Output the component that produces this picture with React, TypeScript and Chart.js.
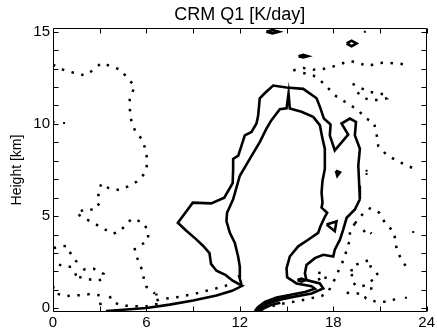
import React, { useEffect, useRef } from "react";
import { Chart, registerables } from "chart.js";

Chart.register(...registerables);

type P = [number, number];

// ---------- text ----------
const chartTitle = "CRM Q1 [K/day]";
const yAxisTitle = "Height [km]";

// ---------- axis ticks ----------
const xTickLabels = [0, 6, 12, 18, 24];
const xMinorTicks = [0, 3, 6, 9, 12, 15, 18, 21, 24];
const yTickLabels = [0, 5, 10, 15];
const yMinorTicks = [0, 1, 2, 3, 4, 5, 6, 7, 8, 9, 10, 11, 12, 13, 14, 15];

// ---------- solid contours (hour, km) ----------
const outerContour: P[] = [
  [3.4, -0.15], [4.5, -0.08], [6, 0.02], [7.5, 0.2], [9, 0.42], [10.5, 0.7], [11.5, 0.95], [12.15, 1.22],
  [11.54, 1.5], [11.1, 1.8], [10.5, 2.04], [10.15, 2.41], [10.05, 2.99], [9.65, 3.38], [9.15, 3.78], [8.6, 4.18], [8.02, 4.64],
  [8.98, 5.73], [10.16, 5.69], [11.0, 6.0], [11.54, 6.79], [11.57, 7.55], [11.57, 8.1], [11.9, 8.28], [12.32, 9.38],
  [12.75, 9.56], [13.07, 10.02], [13.18, 10.47], [13.28, 11.39], [13.6, 11.66], [14.14, 12.08], [15.0, 11.97],
  [16.07, 11.9], [16.93, 11.39], [17.18, 10.84], [17.4, 10.29], [17.83, 9.96], [17.78, 9.38], [18.1, 8.56],
  [18.96, 9.42], [18.53, 10.02], [19.07, 10.29], [19.46, 10.11], [19.39, 9.38], [19.71, 8.65], [19.61, 7.74],
  [19.67, 6.64], [19.71, 5.91], [19.39, 5.36], [18.86, 4.91], [18.64, 4.27], [18.43, 3.72], [18.1, 3.18], [18.0, 2.81],
  [17.36, 2.9], [16.82, 2.72], [16.28, 2.35], [16.18, 1.9], [16.28, 1.53], [17.14, 1.35], [17.36, 1.08],
  [16.61, 0.8], [15.43, 0.62], [14.57, 0.47], [13.82, 0.26], [13.39, -0.02], [13.18, -0.15],
];
const innerContour: P[] = [
  [12.1, 1.31], [11.96, 1.72], [12.0, 2.26], [11.89, 2.81], [11.68, 3.54], [11.36, 4.09], [11.14, 4.73],
  [11.18, 5.18], [11.57, 5.91], [12.0, 7.19], [12.64, 8.1], [13.28, 9.01], [13.71, 9.74], [14.03, 10.2],
  [14.57, 10.8], [15.0, 10.84], [15.13, 11.66], [15.21, 10.84], [15.96, 10.66], [16.71, 10.38], [17.14, 9.93],
  [17.31, 9.2], [17.46, 8.65], [17.46, 7.55], [17.31, 6.92], [17.25, 6.28], [17.31, 5.73], [17.25, 5.46],
  [17.61, 5.18], [17.46, 4.96], [17.18, 4.45], [17.03, 4.09], [16.39, 3.72], [15.75, 3.36], [15.21, 2.81],
  [15.0, 2.17], [15.04, 1.68], [15.64, 1.35], [16.61, 1.2], [16.82, 1.06], [16.18, 0.88], [15.11, 0.71],
  [14.36, 0.58], [13.61, 0.35], [13.18, 0.07], [12.96, -0.15],
];
const groundBandA: P[] = [[13.07, -0.15], [13.3, 0.05], [13.72, 0.3], [14.45, 0.5], [15.2, 0.66]];
const groundBandB: P[] = [[13.3, -0.15], [13.55, 0.0], [14.0, 0.18], [14.6, 0.3]];
const islandTop: P[] = [[13.7, 15.0], [14.1, 15.09], [14.5, 15.0], [14.1, 14.91], [13.7, 15.0]];
const islandDiamond: P[] = [[18.86, 14.36], [19.18, 14.51], [19.5, 14.36], [19.18, 14.21], [18.86, 14.36]];
const islandOval: P[] = [[15.77, 13.67], [16.07, 13.74], [16.37, 13.67], [16.07, 13.6], [15.77, 13.67]];
const islandTriangle: P[] = [[17.57, 4.54], [18.21, 4.71], [18.1, 4.18], [17.57, 4.54]];
const islandSmall: P[] = [[18.17, 7.46], [18.43, 7.37], [18.26, 7.18], [18.17, 7.46]];
const islandLoop: P[] = [[15.7, 1.53], [15.96, 1.61], [16.22, 1.53], [15.96, 1.45], [15.7, 1.53]];

// ---------- dotted contours ----------
const dotLeftBig: P[] = [
  [0.0, 13.21], [0.64, 12.94], [1.33, 12.77], [2.04, 12.63], [2.46, 12.85], [3.11, 13.3], [3.75, 13.12],
  [4.33, 12.94], [4.82, 12.45], [5.25, 12.04], [4.93, 11.35], [4.93, 10.84], [5.04, 10.11], [5.31, 9.56],
  [5.68, 9.2], [5.89, 8.74], [6.06, 8.07], [6.0, 7.55], [5.79, 7.22], [5.36, 6.86], [4.82, 6.61], [4.24, 6.42],
  [3.6, 6.5], [3.11, 6.77], [2.89, 6.28], [3.0, 5.73], [2.68, 5.33], [2.1, 5.4], [1.5, 5.15],
  [2.04, 4.87], [2.57, 4.64], [3.26, 4.31], [3.86, 4.05], [4.33, 4.18], [4.76, 4.64], [5.14, 4.87],
  [5.79, 4.64], [6.11, 4.2], [6.11, 3.69], [5.68, 3.45], [5.25, 3.21], [5.36, 2.85], [5.57, 2.35],
  [5.79, 1.99], [5.83, 1.57], [6.0, 1.17], [6.54, 0.8],
];
const dotLeftLoopA: P[] = [[0.04, 3.27], [0.86, 3.39], [1.18, 2.9], [1.5, 2.54], [1.33, 2.26], [0.75, 2.26], [0.11, 2.45]];
const dotLeftLoopB: P[] = [[1.39, 1.8], [2.04, 2.12], [2.61, 2.15], [3.26, 1.86], [3.26, 1.57], [2.79, 1.5], [2.04, 1.62], [1.46, 1.75]];
const dotGroundLeft: P[] = [[0.0, 1.2], [0.11, 0.84], [0.75, 0.66], [1.71, 0.71], [2.36, 0.77], [3.0, 0.71], [3.04, 0.26], [3.11, -0.05]];
const dotGroundMid: P[] = [[3.64, 0.66], [3.81, 0.35], [4.39, 0.16], [5.25, 0.11], [6.0, 0.11], [6.64, 0.22], [6.64, 0.8]];
const dotGroundBand: P[] = [[6.64, 0.44], [7.29, 0.53], [8.14, 0.62], [9.0, 0.77], [9.86, 0.95], [10.71, 1.13], [11.57, 1.35]];
const dotTopRight: P[] = [
  [15.43, 12.9], [16.07, 13.03], [16.71, 12.94], [17.25, 12.96], [17.89, 13.08], [18.53, 13.27], [19.11, 13.41],
  [19.71, 13.27], [20.25, 13.14], [20.89, 13.3], [21.47, 13.32], [22.18, 13.27], [22.76, 13.21],
];
const dotRightUpper: P[] = [
  [16.07, 12.76], [16.71, 12.63], [17.14, 12.39], [17.78, 11.84], [18.21, 11.48], [18.75, 11.2], [19.18, 10.97],
  [19.61, 10.75], [20.03, 10.33], [20.61, 10.07], [20.78, 9.47], [20.89, 8.8], [21.43, 8.32], [21.96, 8.07],
  [22.5, 7.83], [23.1, 7.61],
];
const dotRightLoop: P[] = [
  [19.24, 12.17], [19.82, 11.93], [20.25, 11.75], [20.89, 11.66], [21.47, 11.57], [21.47, 11.39], [20.89, 11.3],
  [20.36, 11.3], [19.88, 11.44], [19.54, 11.72],
];
const dotRightLowerA: P[] = [
  [19.39, 4.6], [19.93, 5.15], [20.36, 5.42], [20.96, 5.18], [21.32, 4.64], [21.9, 4.14], [22.07, 3.23],
  [22.39, 2.59], [22.82, 2.13],
];
const dotRightLowerB: P[] = [
  [19.39, 4.6], [19.07, 4.14], [19.07, 3.69], [18.86, 3.23], [18.75, 2.77], [18.43, 2.23], [18.17, 1.68],
  [17.89, 1.26], [17.68, 0.89], [17.25, 0.66], [16.71, 0.57], [16.18, 0.47], [15.64, 0.38], [15.11, 0.31],
  [14.57, 0.22], [14.03, 0.11],
];
const dotRightRing: P[] = [[17.03, 1.93], [17.46, 1.9], [17.53, 1.53], [17.14, 1.5], [17.03, 1.68]];
const dotRightLoopLow: P[] = [
  [19.18, 1.99], [19.18, 2.26], [19.71, 2.45], [20.36, 2.63], [20.4, 2.26], [20.89, 1.8], [20.14, 1.26],
  [19.61, 1.17], [19.24, 1.39], [19.18, 1.99],
];
const dotRightGround: P[] = [
  [18.86, 0.84], [19.39, 0.8], [19.93, 0.8], [20.1, 0.53], [20.78, 0.35], [21.54, 0.35], [22.07, 0.53], [22.18, 0.75],
];
const dotRightSmall: P[] = [[19.93, 4.14], [20.14, 4.31], [20.46, 4.05]];
const dotRightStub: P[] = [[20.36, 1.08], [20.61, 1.08]];

const isolatedDots: P[] = [
  [0.04, 10.11], [0.71, 10.05], [20.03, 15.0], [20.14, 7.46], [20.14, 7.28], [23.14, 4.14], [22.67, 0.57],
];

const solidLines: P[][] = [
  outerContour, innerContour, groundBandA, groundBandB, islandTop, islandDiamond, islandOval,
  islandTriangle, islandSmall, islandLoop,
];
const dottedLines: P[][] = [
  dotLeftBig, dotLeftLoopA, dotLeftLoopB, dotGroundLeft, dotGroundMid, dotGroundBand, dotTopRight,
  dotRightUpper, dotRightLoop, dotRightLowerA, dotRightLowerB, dotRightRing, dotRightLoopLow,
  dotRightGround, dotRightSmall, dotRightStub,
];

const FONT = "'Liberation Sans', Arial, Helvetica, sans-serif";

const framePlugin = {
  id: "frame",
  afterDraw(chart: any) {
    const { ctx, chartArea } = chart;
    const xs = chart.scales.x;
    const ys = chart.scales.y;
    const L = Math.round(chartArea.left) + 0.5;
    const R = Math.round(chartArea.right) - 0.5;
    const T = Math.round(chartArea.top) + 0.5;
    const B = Math.round(chartArea.bottom) - 0.5;
    ctx.save();
    ctx.strokeStyle = "#000";
    ctx.lineWidth = 1;
    ctx.beginPath();
    ctx.rect(L, T, R - L, B - T);
    const len = 5;
    xMinorTicks.forEach((v) => {
      const px = Math.round(xs.getPixelForValue(v)) + 0.5;
      ctx.moveTo(px, B);
      ctx.lineTo(px, B - len);
      ctx.moveTo(px, T);
      ctx.lineTo(px, T + len);
    });
    yMinorTicks.forEach((v) => {
      const py = Math.round(ys.getPixelForValue(v)) + 0.5;
      ctx.moveTo(L, py);
      ctx.lineTo(L + len, py);
      ctx.moveTo(R, py);
      ctx.lineTo(R - len, py);
    });
    ctx.stroke();
    // title centred over the plot box
    ctx.fillStyle = "#000";
    ctx.font = `18px ${FONT}`;
    ctx.textAlign = "center";
    ctx.textBaseline = "middle";
    ctx.fillText(chartTitle, (chartArea.left + chartArea.right) / 2, 15);
    ctx.restore();
  },
};

export default function App() {
  const ref = useRef<HTMLCanvasElement>(null);
  useEffect(() => {
    document.body.style.margin = "0";
    if (!ref.current) return;
    const toXY = (arr: P[]) => arr.map(([x, y]) => ({ x, y }));
    const datasets: any[] = [];
    solidLines.forEach((line) => {
      datasets.push({
        data: toXY(line),
        showLine: true,
        borderColor: "#000",
        borderWidth: 2.6,
        pointRadius: 0,
        fill: false,
        tension: 0,
        borderJoinStyle: "miter",
      });
    });
    dottedLines.forEach((line) => {
      datasets.push({
        data: toXY(line),
        showLine: true,
        borderColor: "#000",
        borderWidth: 2.5,
        borderDash: [2.5, 7.5],
        borderCapStyle: "butt",
        pointRadius: 0,
        fill: false,
        tension: 0,
      });
    });
    datasets.push({
      data: toXY(isolatedDots),
      showLine: false,
      pointStyle: "rect",
      pointRadius: 1.4,
      backgroundColor: "#000",
      borderWidth: 0,
    });

    const chart = new Chart(ref.current, {
      type: "scatter",
      data: { datasets },
      options: {
        animation: false,
        responsive: false,
        layout: { padding: { left: 0, right: 9, top: 28, bottom: 0 } },
        plugins: {
          legend: { display: false },
          tooltip: { enabled: false },
          title: { display: false },
        },
        scales: {
          x: {
            type: "linear",
            min: 0,
            max: 24,
            grid: { display: false, drawTicks: false },
            border: { display: false },
            afterBuildTicks: (s: any) => {
              s.ticks = xTickLabels.map((v) => ({ value: v }));
            },
            ticks: { color: "#000", font: { family: FONT, size: 15 }, padding: 2, maxRotation: 0 },
            afterFit: (s: any) => {
              s.height = 23;
            },
          },
          y: {
            type: "linear",
            min: -0.2,
            max: 15.2,
            grid: { display: false, drawTicks: false },
            border: { display: false },
            afterBuildTicks: (s: any) => {
              s.ticks = yTickLabels.map((v) => ({ value: v }));
            },
            ticks: { color: "#000", font: { family: FONT, size: 15 }, padding: 3 },
            title: {
              display: true,
              text: yAxisTitle,
              color: "#000",
              font: { family: FONT, size: 14 },
              padding: { top: 9, bottom: 0 },
            },
            afterFit: (s: any) => {
              s.width = 53;
            },
          },
        },
      },
      plugins: [framePlugin],
    });
    return () => chart.destroy();
  }, []);
  return (
    <div style={{ position: "absolute", left: 0, top: 0, width: 437, height: 335, background: "#fff" }}>
      <canvas ref={ref} width={437} height={335} />
    </div>
  );
}
